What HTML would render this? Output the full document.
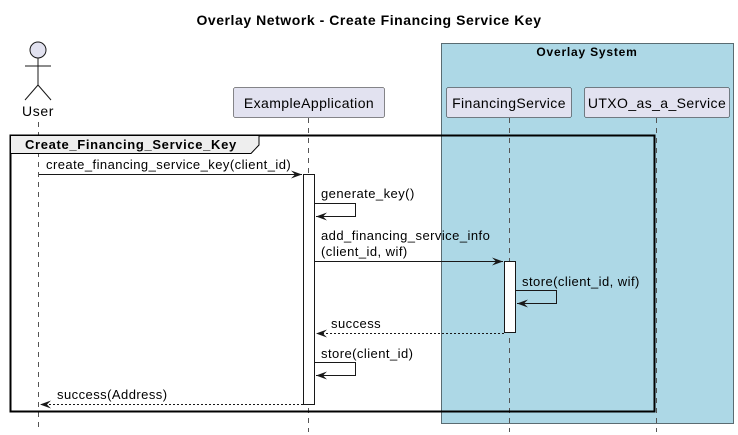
<!DOCTYPE html>
<html><head><meta charset="utf-8"><style>body{margin:0;background:#fff}svg{display:block}text{font-family:"Liberation Sans",sans-serif}</style></head><body>
<svg width="738" height="435" viewBox="0 0 738 435" xmlns="http://www.w3.org/2000/svg">
<defs>
<marker id="a" markerWidth="12" markerHeight="10" refX="11" refY="5" orient="auto" markerUnits="userSpaceOnUse"><path d="M0,1 L11,5 L0,9 L4,5 Z" fill="#181818"/></marker>
</defs>
<text x="369" y="25" text-anchor="middle" font-size="14" font-weight="bold" letter-spacing="0.55">Overlay Network - Create Financing Service Key</text>
<rect x="10" y="135" width="645" height="277" fill="#fff"/>
<rect x="441.5" y="43.5" width="292" height="380" fill="#ADD8E6" stroke="#5a6c72" stroke-width="1"/>
<text x="587" y="56" text-anchor="middle" font-size="12" font-weight="bold" letter-spacing="0.8">Overlay System</text>
<g stroke="#555" stroke-dasharray="5,5" stroke-width="1">
<line x1="38.5" y1="122" x2="38.5" y2="432"/>
<line x1="308.5" y1="118" x2="308.5" y2="432"/>
<line x1="509.5" y1="118" x2="509.5" y2="432"/>
<line x1="656.5" y1="118" x2="656.5" y2="432"/>
</g>
<circle cx="38" cy="50" r="8" fill="#E2E2F0" stroke="#181818"/>
<line x1="38" y1="58" x2="38" y2="85" stroke="#181818"/>
<line x1="25" y1="66" x2="51" y2="66" stroke="#181818"/>
<line x1="38" y1="85" x2="25" y2="100" stroke="#181818"/>
<line x1="38" y1="85" x2="51" y2="100" stroke="#181818"/>
<text x="38" y="116" text-anchor="middle" font-size="14" letter-spacing="0.6">User</text>
<g font-size="14" letter-spacing="0.4" text-anchor="middle">
<rect x="233.5" y="87.5" width="151" height="30" rx="2" fill="#E2E2F0" stroke="#181818" stroke-width="0.5"/>
<text x="309" y="108">ExampleApplication</text>
<rect x="446.5" y="87.5" width="125" height="30" rx="2" fill="#E2E2F0" stroke="#181818" stroke-width="0.5"/>
<text x="509" y="108">FinancingService</text>
<rect x="584.5" y="87.5" width="145" height="30" rx="2" fill="#E2E2F0" stroke="#181818" stroke-width="0.5"/>
<text x="657" y="108">UTXO_as_a_Service</text>
</g>
<rect x="10.5" y="135.5" width="644" height="276" fill="none" stroke="#000" stroke-width="2"/>
<path d="M10.5,135.5 L259,135.5 L259,145 L251,153.5 L10.5,153.5 Z" fill="#EEEEEE" stroke="#000" stroke-width="1"/>
<text x="25" y="149" font-size="13" font-weight="bold" letter-spacing="0.65">Create_Financing_Service_Key</text>
<rect x="303.5" y="174.5" width="11" height="230" fill="#fff" stroke="#181818"/>
<rect x="504.5" y="261.5" width="11" height="71" fill="#fff" stroke="#181818"/>
<g stroke="#181818" stroke-width="1" fill="none">
<line x1="39" y1="174.5" x2="302" y2="174.5" marker-end="url(#a)"/>
<polyline points="315,203.5 355.5,203.5 355.5,216.5 316,216.5" marker-end="url(#a)"/>
<line x1="315" y1="261.5" x2="503" y2="261.5" marker-end="url(#a)"/>
<polyline points="516,290.5 556.5,290.5 556.5,303.5 517,303.5" marker-end="url(#a)"/>
<line x1="504" y1="333.5" x2="316" y2="333.5" stroke-dasharray="2,2" marker-end="url(#a)"/>
<polyline points="315,362.5 355.5,362.5 355.5,375.5 316,375.5" marker-end="url(#a)"/>
<line x1="303" y1="404.5" x2="40" y2="404.5" stroke-dasharray="2,2" marker-end="url(#a)"/>
</g>
<g font-size="13" fill="#000" letter-spacing="0.45">
<text x="46" y="169">create_financing_service_key(client_id)</text>
<text x="321" y="198">generate_key()</text>
<text x="321" y="240">add_financing_service_info</text>
<text x="321" y="256">(client_id, wif)</text>
<text x="522" y="286">store(client_id, wif)</text>
<text x="331" y="328">success</text>
<text x="321" y="358">store(client_id)</text>
<text x="57" y="399">success(Address)</text>
</g>
</svg>
</body></html>
